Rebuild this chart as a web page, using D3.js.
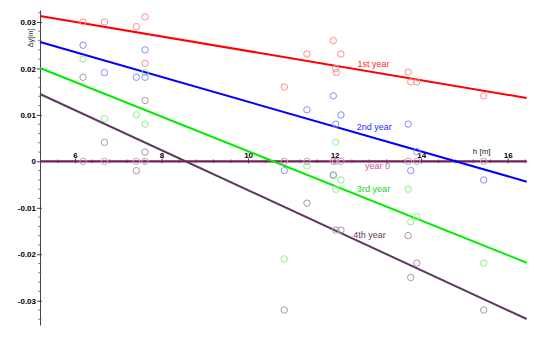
<!DOCTYPE html>
<html>
<head>
<meta charset="utf-8">
<script src="https://cdn.jsdelivr.net/npm/d3@7"></script>
<style>
  html, body { margin: 0; padding: 0; background: #fff; }
  svg { display: block; font-family: "Liberation Sans", Arial, sans-serif; }
</style>
</head>
<body>
<svg id="chart" width="550" height="338"></svg>
<script>
// ---- Data ----
const xTicks = [6, 8, 10, 12, 14, 16];
const xTickLabels = ["6", "8", "10", "12", "14", "16"];
const yTicks = [0.03, 0.02, 0.01, 0, -0.01, -0.02, -0.03];
const yTickLabels = ["0.03", "0.02", "0.01", "0", "-0.01", "-0.02", "-0.03"];

const year0H = [6.185, 6.68, 7.417, 7.618, 10.837, 11.36, 11.97, 12.025, 12.146, 13.70, 13.90, 15.445];

const year1 = [
  [6.185, 0.0300], [6.68, 0.0300], [7.417, 0.0290], [7.618, 0.0311], [7.618, 0.0211],
  [10.837, 0.0160], [11.36, 0.0231], [11.97, 0.0260], [12.146, 0.0231], [12.025, 0.0200],
  [12.04, 0.0191], [13.70, 0.0192], [13.76, 0.0171], [13.90, 0.0171], [15.445, 0.0141]
];
const year2 = [
  [6.185, 0.0250], [6.68, 0.0191], [7.417, 0.0181], [7.618, 0.0240], [7.618, 0.0181],
  [10.837, -0.0020], [11.36, 0.0111], [11.97, 0.0141], [12.146, 0.0100], [12.025, 0.0080],
  [13.70, 0.0080], [13.90, 0.0021], [13.76, -0.0020], [15.445, -0.0040]
];
const year3 = [
  [6.185, 0.0220], [6.68, 0.0092], [7.417, 0.0100], [7.618, 0.0191], [7.618, 0.0080],
  [10.837, -0.0210], [11.36, -0.0010], [11.97, -0.0031], [12.025, 0.0041], [12.025, -0.0060],
  [12.146, -0.0040], [13.70, -0.0060], [13.90, -0.0119], [13.76, -0.0130], [15.445, -0.0219]
];
const year4 = [
  [6.185, 0.0181], [6.68, 0.0041], [7.417, -0.0020], [7.618, 0.0131], [7.618, 0.0020],
  [10.837, -0.0320], [11.36, -0.0090], [11.97, -0.0029], [12.025, -0.0148], [12.146, -0.0148],
  [13.70, -0.0160], [13.90, -0.0219], [13.76, -0.0250], [15.445, -0.0320]
];

// fitted lines (end points)
const fit0 = [[5.19, 0], [16.44, 0]];
const fit1 = [[5.19, 0.03129], [16.44, 0.01364]];
const fit2 = [[5.19, 0.02569], [16.44, -0.00438]];
const fit3 = [[5.19, 0.02010], [16.44, -0.02182]];
const fit4 = [[5.19, 0.01450], [16.44, -0.03394]];

const seriesNames = ["1st year", "2nd year", "year 0", "3rd year", "4th year"];
const labelH = [12.53, 12.51, 12.70, 12.52, 12.43];
const labelDy = [0.02074, 0.00718, -0.00122, -0.00610, -0.01606];

// ---- Drawing ----
const svg = d3.select("#chart");
const x = d3.scaleLinear().domain([5.19, 16.44]).range([40, 526.7]);
const y = d3.scaleLinear().domain([0.03258, -0.03523]).range([10, 325]);

const styles = [
  { pts: year0H.map(h => [h, 0]), fit: fit0, line: "#7a1c5c", pt: "#d49ac0", txt: "#c45a94" },
  { pts: year1, fit: fit1, line: "#ff0000", pt: "#ff8c8c", txt: "#ff2a2a" },
  { pts: year2, fit: fit2, line: "#0000ff", pt: "#8c8cff", txt: "#2a2aff" },
  { pts: year3, fit: fit3, line: "#00ee00", pt: "#8cf08c", txt: "#1ed21e" },
  { pts: year4, fit: fit4, line: "#5e3a60", pt: "#a898a8", txt: "#5e4060" }
];

// Y axis
const yAxis = d3.axisLeft(y).tickValues(yTicks)
  .tickFormat((d, i) => yTickLabels[i]).tickSizeInner(3).tickSizeOuter(0).tickPadding(1);
const gy = svg.append("g").attr("transform", `translate(${x.range()[0]},0)`).call(yAxis);
gy.select(".domain").attr("stroke", "#444").attr("stroke-width", 1);
gy.selectAll(".tick line").attr("stroke", "#444").attr("x2", -3).attr("x1", 2);
gy.selectAll(".tick text").attr("font-size", 8).attr("font-weight", "bold").attr("fill", "#000")
  .attr("font-family", "Liberation Sans, Arial, sans-serif");
// minor ticks y
const yMinor = d3.range(-0.034, 0.0326, 0.002).filter(v => Math.abs(Math.round(v * 100) - v * 100) > 1e-6);
gy.selectAll(".minor").data(yMinor).enter().append("line")
  .attr("x1", -2).attr("x2", 1.5).attr("y1", d => y(d)).attr("y2", d => y(d))
  .attr("stroke", "#666").attr("stroke-width", 0.8);

// X axis
const xAxis = d3.axisTop(x).tickValues(xTicks)
  .tickFormat((d, i) => xTickLabels[i]).tickSizeInner(3).tickSizeOuter(0).tickPadding(1);
const gx = svg.append("g").attr("transform", `translate(0,${y(0)})`).call(xAxis);
gx.select(".domain").attr("stroke", "#444");
gx.selectAll(".tick line").attr("stroke", "#444").attr("y1", 2).attr("y2", -3);
gx.selectAll(".tick text").attr("font-size", 8).attr("font-weight", "bold").attr("fill", "#000")
  .attr("y", -3).attr("font-family", "Liberation Sans, Arial, sans-serif");
const xMinor = d3.range(5.2, 16.41, 0.4).filter(v => Math.abs(v / 2 - Math.round(v / 2)) > 1e-6);
gx.selectAll(".minor").data(xMinor).enter().append("line")
  .attr("x1", d => x(d)).attr("x2", d => x(d)).attr("y1", -2).attr("y2", 2)
  .attr("stroke", "#666").attr("stroke-width", 0.8);

// axis titles
svg.append("text").attr("x", 481.7).attr("y", 154).attr("text-anchor", "middle")
  .attr("font-size", 8).attr("fill", "#222").text("h [m]");
svg.append("text").attr("transform", "translate(32.5,38) rotate(-90)").attr("text-anchor", "middle")
  .attr("font-size", 7.5).attr("fill", "#333").text("\u0394y[m]");

// lines
const lineGen = d3.line().x(d => x(d[0])).y(d => y(d[1]));
styles.forEach(s => {
  svg.append("path").datum(s.fit).attr("d", lineGen)
    .attr("fill", "none").attr("stroke", s.line).attr("stroke-width", 2);
});

// points
styles.forEach(s => {
  svg.append("g").selectAll("circle").data(s.pts).enter().append("circle")
    .attr("cx", d => x(d[0])).attr("cy", d => y(d[1])).attr("r", 3.2)
    .attr("fill", "none").attr("stroke", s.pt).attr("stroke-width", 1);
});

// labels
const labelColors = [styles[1].txt, styles[2].txt, styles[0].txt, styles[3].txt, styles[4].txt];
seriesNames.forEach((name, i) => {
  svg.append("text").attr("x", x(labelH[i])).attr("y", y(labelDy[i]))
    .attr("dominant-baseline", "middle").attr("font-size", 9)
    .attr("fill", labelColors[i]).text(name);
});
</script>
</body>
</html>
